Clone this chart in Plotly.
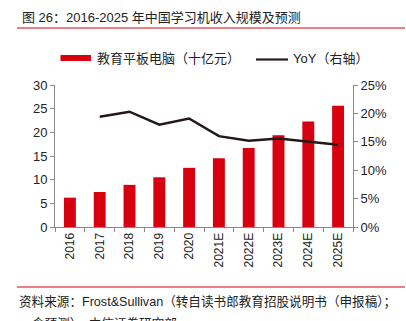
import plotly.graph_objects as go

years = ["2016", "2017", "2018", "2019", "2020", "2021E", "2022E", "2023E", "2024E", "2025E"]
revenue = [6.2, 7.4, 8.9, 10.5, 12.5, 14.5, 16.7, 19.4, 22.3, 25.6]
yoy_years = years[1:]
yoy = [19.4, 20.3, 18.0, 19.1, 16.0, 15.2, 15.6, 15.1, 14.5]
bar_name = "教育平板电脑（十亿元）"
line_name = "YoY（右轴）"

W, H = 406, 321
L, R, T, B = 55, 53, 85, 94
ph = H - T - B
pw = W - L - R

def px_x(x):
    return (x - L) / pw

def px_y(y):
    return (H - B - y) / ph

FONT = "Liberation Sans, Arial, Noto Sans CJK SC, sans-serif"
RED = "#d7000f"
INK = "#231815"

fig = go.Figure()
fig.add_trace(go.Bar(x=years, y=revenue, name=bar_name,
                     marker=dict(color=RED, line=dict(width=0)), yaxis="y"))
fig.add_trace(go.Scatter(x=yoy_years, y=yoy, name=line_name, mode="lines",
                         line=dict(color=INK, width=2.5), yaxis="y2"))

fig.update_layout(
    width=W, height=H,
    margin=dict(l=L, r=R, t=T, b=B),
    paper_bgcolor="white", plot_bgcolor="white",
    font=dict(family=FONT, size=12, color="#222"),
    bargap=0.6,
    showlegend=False,
    xaxis=dict(type="category", tickangle=-90, showline=True, linecolor="#888", linewidth=1,
               ticks="outside", ticklen=4, tickcolor="#888", tickson="boundaries",
               tickfont=dict(size=12, color="#222"), showgrid=False, zeroline=False),
    yaxis=dict(range=[0, 30], dtick=5, showline=True, linecolor="#888", linewidth=1,
               ticks="outside", ticklen=4, tickcolor="#888", showgrid=False, zeroline=False,
               tickfont=dict(size=13, color="#222")),
    yaxis2=dict(range=[0, 25], dtick=5, overlaying="y", side="right", showline=True,
                linecolor="#888", linewidth=1, ticks="outside", ticklen=4, tickcolor="#888",
                ticksuffix="%", showgrid=False, zeroline=False,
                tickfont=dict(size=13, color="#222")),
)

# legend drawn manually (single row)
fig.add_shape(type="rect", xref="paper", yref="paper", x0=px_x(60.5), x1=px_x(91),
              y0=px_y(61), y1=px_y(55), fillcolor=RED, line=dict(width=0))
fig.add_annotation(text=bar_name, xref="paper", yref="paper", x=px_x(95), y=px_y(58.5),
                   xanchor="left", yanchor="middle", showarrow=False,
                   font=dict(size=13, color="#222"))
fig.add_shape(type="line", xref="paper", yref="paper", x0=px_x(256), x1=px_x(288),
              y0=px_y(59.5), y1=px_y(59.5), line=dict(color=INK, width=2.2))
fig.add_annotation(text=line_name, xref="paper", yref="paper", x=px_x(291), y=px_y(58.5),
                   xanchor="left", yanchor="middle", showarrow=False,
                   font=dict(size=13, color="#222"))

fig.add_annotation(text="图 26：2016-2025 年中国学习机收入规模及预测", xref="paper", yref="paper",
                   x=px_x(20), y=px_y(17), xanchor="left", yanchor="middle", showarrow=False,
                   font=dict(size=13, color="#222"))
fig.add_shape(type="line", xref="paper", yref="paper", x0=px_x(17), x1=px_x(405),
              y0=px_y(28), y1=px_y(28), line=dict(color=RED, width=1.2))
fig.add_shape(type="line", xref="paper", yref="paper", x0=px_x(17), x1=px_x(405),
              y0=px_y(287), y1=px_y(287), line=dict(color=RED, width=1.2))
fig.add_annotation(text="资料来源：Frost&Sullivan（转自读书郎教育招股说明书（申报稿）；",
                   xref="paper", yref="paper", x=px_x(17), y=px_y(302), xanchor="left",
                   yanchor="middle", showarrow=False, font=dict(size=12.6, color="#222"))
fig.add_annotation(text="含预测），中信证券研究部",
                   xref="paper", yref="paper", x=px_x(30), y=px_y(323), xanchor="left",
                   yanchor="middle", showarrow=False, font=dict(size=12.6, color="#222"))

fig.write_html("out.html")
